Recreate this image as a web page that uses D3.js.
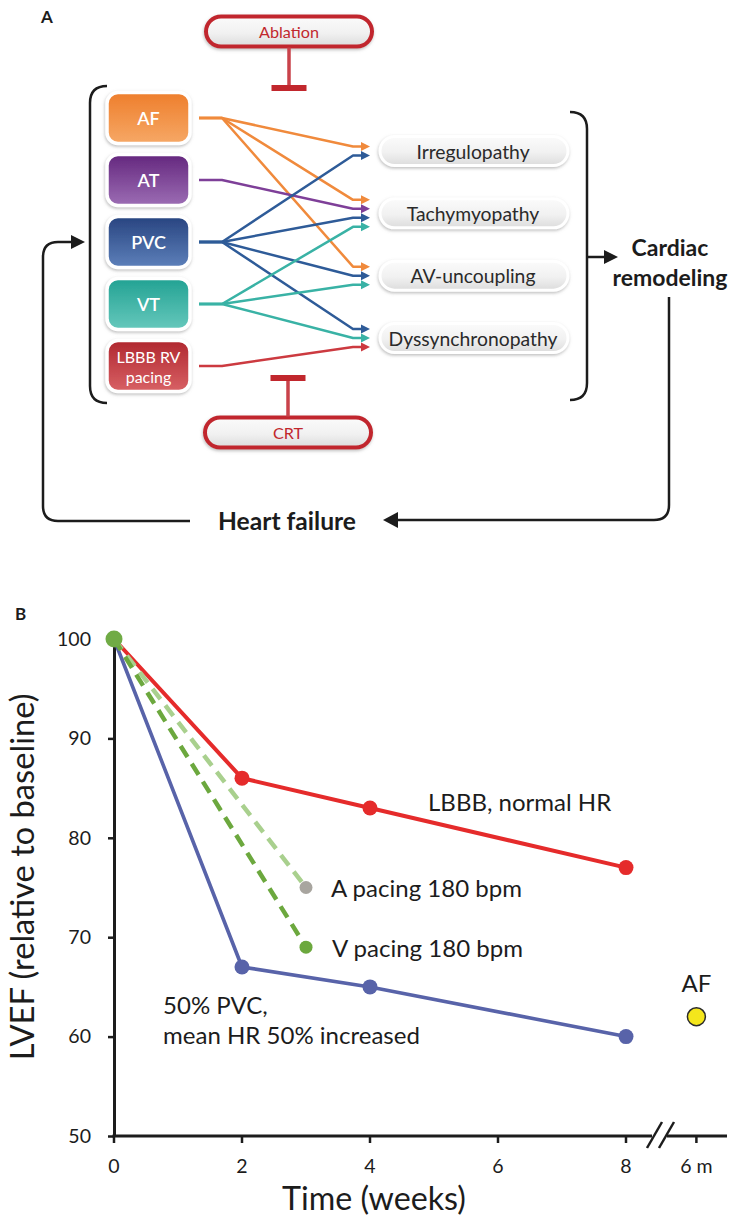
<!DOCTYPE html>
<html><head><meta charset="utf-8">
<script src="https://cdn.jsdelivr.net/npm/d3@7"></script>
<style>
body{margin:0;background:#fff}
svg{display:block}
text{font-family:Lato,"Open Sans",sans-serif}
</style>
</head><body>
<svg id="c" width="734" height="1218"></svg>
<script>
// ---------------- Panel A data ----------------
const sources = ["AF", "AT", "PVC", "VT", "LBBB RV pacing"];
const sourceLabelLines = [["AF"], ["AT"], ["PVC"], ["VT"], ["LBBB RV", "pacing"]];
const mechanisms = ["Irregulopathy", "Tachymyopathy", "AV-uncoupling", "Dyssynchronopathy"];
const linkFrom = ["AF", "AF", "AF", "AT", "PVC", "PVC", "PVC", "PVC", "VT", "VT", "VT", "LBBB RV pacing"];
const linkTo = ["Irregulopathy", "Tachymyopathy", "AV-uncoupling", "Tachymyopathy",
                "Irregulopathy", "Tachymyopathy", "AV-uncoupling", "Dyssynchronopathy",
                "Tachymyopathy", "AV-uncoupling", "Dyssynchronopathy", "Dyssynchronopathy"];
const interventions = ["Ablation", "CRT"];
const outcomeLines = ["Cardiac", "remodeling"];
const feedbackLabel = "Heart failure";

// ---------------- Panel B data ----------------
const weeks = [0, 2, 4, 8];
const lbbbNormalHR = [100, 86, 83, 77];
const pvc50 = [100, 67, 65, 60];
const pacingWeeks = [0, 3];
const aPacing180 = [100, 75];
const vPacing180 = [100, 69];
const afValue = [62];
const xTickValues = [0, 2, 4, 6, 8, "6 m"];
const yTickValues = [50, 60, 70, 80, 90, 100];
const seriesLabels = ["LBBB, normal HR", "A pacing 180 bpm", "V pacing 180 bpm", "50% PVC,", "mean HR 50% increased", "AF"];

// ---------------- styles ----------------
const srcGrad = {AF:["#EE7E2C","#F6A866"], AT:["#64277E","#9C6DB4"], PVC:["#284480","#5D80BA"], VT:["#22A293","#66C8BC"], "LBBB RV pacing":["#B0282F","#D86165"]};
const linkColor = {AF:"#F08A3C", AT:"#7E3F98", PVC:"#2E5B98", VT:"#39B2A5", "LBBB RV pacing":"#CC3A40"};
const dark = "#1c1c1c";
const therapyRed = "#C1272D";

const svg = d3.select("#c");
const defs = svg.append("defs");

function textWidth(str, size, weight) {
  const t = svg.append("text").attr("font-size", size).attr("font-weight", weight || "normal").text(str);
  const w = t.node().getComputedTextLength();
  t.remove();
  return w;
}
function fitSize(str, target, weight) { return 100 * target / textWidth(str, 100, weight); }

const shadow = defs.append("filter").attr("id", "sh").attr("x", "-20%").attr("y", "-30%").attr("width", "140%").attr("height", "160%");
shadow.append("feDropShadow").attr("dx", -0.5).attr("dy", 1.5).attr("stdDeviation", 1.6).attr("flood-color", "#888").attr("flood-opacity", 0.55);

sources.forEach((s, i) => {
  const g = defs.append("linearGradient").attr("id", "sg" + i).attr("x1", 0).attr("y1", 0).attr("x2", 0).attr("y2", 1);
  g.append("stop").attr("offset", "0%").attr("stop-color", srcGrad[s][0]);
  g.append("stop").attr("offset", "100%").attr("stop-color", srcGrad[s][1]);
});
const pg = defs.append("linearGradient").attr("id", "pill").attr("x1", 0).attr("y1", 0).attr("x2", 0).attr("y2", 1);
pg.append("stop").attr("offset", "0%").attr("stop-color", "#fbfbfb");
pg.append("stop").attr("offset", "55%").attr("stop-color", "#f1f1f1");
pg.append("stop").attr("offset", "100%").attr("stop-color", "#dcdcdc");

// ================= PANEL A =================
const A = svg.append("g");
A.append("text").attr("x", 41).attr("y", 23).attr("font-family", "Liberation Sans, Arial")
  .attr("font-weight", "bold").attr("font-size", 17).attr("fill", dark).text("A");

const srcY = d3.scalePoint().domain(sources).range([118, 366]);
const mechY = d3.scalePoint().domain(mechanisms).range([151, 338]);
const boxX = 107, boxW = 83, boxH = 51;
const fanX = 222, startX = 199, bendX = 353, tipX = 370;

// links
const linkData = linkFrom.map((f, i) => ({from: f, to: linkTo[i]}));
mechanisms.forEach(m => {
  const grp = linkData.filter(d => d.to === m);
  grp.forEach((d, k) => { d.ty = mechY(m) + (k - (grp.length - 1) / 2) * 9; });
});
const gl = A.append("g");
linkData.forEach(d => {
  const sy = srcY(d.from);
  gl.append("path")
    .attr("d", `M${startX},${sy}L${fanX},${sy}L${bendX},${d.ty}L${tipX - 7},${d.ty}`)
    .attr("fill", "none").attr("stroke", linkColor[d.from]).attr("stroke-width", 2.5).attr("stroke-linejoin", "round");
  gl.append("path")
    .attr("d", `M${tipX},${d.ty}L${tipX - 9},${d.ty - 4.5}L${tipX - 9},${d.ty + 4.5}Z`)
    .attr("fill", linkColor[d.from]);
});

// source boxes
const srcFont = 18;
sources.forEach((s, i) => {
  const cy = srcY(s);
  A.append("rect").attr("x", boxX).attr("y", cy - boxH / 2).attr("width", boxW).attr("height", boxH)
    .attr("rx", 11).attr("fill", `url(#sg${i})`).attr("stroke", "#fff").attr("stroke-width", 3.5).attr("filter", "url(#sh)");
  const lines = sourceLabelLines[i];
  lines.forEach((ln, k) => {
    A.append("text").attr("x", boxX + boxW / 2).attr("y", cy + (k - (lines.length - 1) / 2) * 20)
      .attr("text-anchor", "middle").attr("dominant-baseline", "central")
      .attr("font-size", lines.length > 1 ? 16 : srcFont).attr("font-weight", lines.length > 1 ? "normal" : "600")
      .attr("fill", "#fff").text(ln);
  });
});

// mechanism pills
const pillX = 380, pillW = 188, pillH = 29;
const mechFont = fitSize("Dyssynchronopathy", 169);
mechanisms.forEach(m => {
  const cy = mechY(m);
  A.append("rect").attr("x", pillX).attr("y", cy - pillH / 2).attr("width", pillW).attr("height", pillH)
    .attr("rx", pillH / 2).attr("fill", "url(#pill)").attr("stroke", "#fff").attr("stroke-width", 3).attr("filter", "url(#sh)");
  A.append("text").attr("x", pillX + pillW / 2 - 1).attr("y", cy).attr("text-anchor", "middle")
    .attr("dominant-baseline", "central").attr("font-size", mechFont).attr("fill", "#2a2a2a").text(m);
});

// brackets
A.append("path").attr("d", "M107,86Q90,86 90,103L90,386Q90,403 107,403")
  .attr("fill", "none").attr("stroke", dark).attr("stroke-width", 2.5);
A.append("path").attr("d", "M570,112Q587,112 587,129L587,383Q587,400 570,400")
  .attr("fill", "none").attr("stroke", dark).attr("stroke-width", 2.5);

// outcome arrow + text
A.append("path").attr("d", "M587,257L606,257").attr("stroke", dark).attr("stroke-width", 2.5);
A.append("path").attr("d", "M618,257L604,250L604,264Z").attr("fill", dark);
const boldFont = fitSize("remodeling", 115, "bold");
outcomeLines.forEach((t, k) => {
  A.append("text").attr("x", 670).attr("y", 247 + k * 30).attr("text-anchor", "middle")
    .attr("dominant-baseline", "central").attr("font-weight", "bold").attr("font-size", boldFont).attr("fill", dark).text(t);
});

// feedback loop
A.append("path").attr("d", "M669,297L669,505Q669,520 654,520L396,520")
  .attr("fill", "none").attr("stroke", dark).attr("stroke-width", 2.5);
A.append("path").attr("d", "M383,520L398,512L398,528Z").attr("fill", dark);
A.append("text").attr("x", 287).attr("y", 520).attr("text-anchor", "middle").attr("dominant-baseline", "central")
  .attr("font-weight", "bold").attr("font-size", fitSize(feedbackLabel, 138, "bold")).attr("fill", dark).text(feedbackLabel);
A.append("path").attr("d", "M190,521L58,521Q43,521 43,506L43,257Q43,242 58,242L72,242")
  .attr("fill", "none").attr("stroke", dark).attr("stroke-width", 2.5);
A.append("path").attr("d", "M85,242L71,235L71,249Z").attr("fill", dark);

// interventions (Ablation top, CRT bottom)
const therapyY = d3.scalePoint().domain(interventions).range([31.5, 432.5]);
const thFont = fitSize("Ablation", 60);
interventions.forEach((t, i) => {
  const cy = therapyY(t), cx = 289 - i;
  A.append("rect").attr("x", cx - 83).attr("y", cy - 15).attr("width", 166).attr("height", 30).attr("rx", 15)
    .attr("fill", "url(#pill)").attr("stroke", therapyRed).attr("stroke-width", 4).attr("filter", "url(#sh)");
  A.append("text").attr("x", cx).attr("y", cy).attr("text-anchor", "middle").attr("dominant-baseline", "central")
    .attr("font-size", thFont).attr("fill", therapyRed).text(t);
  const dir = i === 0 ? 1 : -1;
  const y0 = cy + dir * 16, y1 = i === 0 ? 85 : 381;
  A.append("line").attr("x1", cx).attr("x2", cx).attr("y1", y0).attr("y2", y1)
    .attr("stroke", "#C9424A").attr("stroke-width", 3.5);
  A.append("rect").attr("x", cx - 17.5).attr("y", (i === 0 ? y1 : y1 - 6)).attr("width", 35).attr("height", 6)
    .attr("fill", therapyRed);
});

// ================= PANEL B =================
const B = svg.append("g");
B.append("text").attr("x", 15).attr("y", 620).attr("font-family", "Liberation Sans, Arial")
  .attr("font-weight", "bold").attr("font-size", 17).attr("fill", dark).text("B");

const afPos = 9.1; // axis position of the "6 m" break category
const x = d3.scaleLinear().domain([0, 8]).range([114, 626]);
const y = d3.scaleLinear().domain([50, 100]).range([1136, 639]);
const xPos = v => (v === "6 m" ? x(afPos) : x(v));

const tickFont = fitSize("100", 34);
// y axis
const ya = B.append("g").attr("transform", "translate(114,0)")
  .call(d3.axisLeft(y).tickValues(yTickValues).tickSize(6).tickSizeOuter(0).tickPadding(17));
ya.select(".domain").attr("stroke", dark).attr("stroke-width", 3);
ya.selectAll(".tick line").attr("stroke", dark).attr("stroke-width", 2.5);
ya.selectAll(".tick text").attr("font-size", tickFont).attr("fill", dark).attr("font-family", null);

// x axis (with break before the "6 m" category)
const xg = B.append("g").attr("transform", "translate(0,1136)");
xg.append("line").attr("x1", 112.5).attr("x2", 652).attr("stroke", dark).attr("stroke-width", 3);
xg.append("line").attr("x1", 667).attr("x2", 727).attr("stroke", dark).attr("stroke-width", 3);
xg.append("line").attr("x1", 647).attr("y1", 12).attr("x2", 662).attr("y2", -14).attr("stroke", dark).attr("stroke-width", 2.5);
xg.append("line").attr("x1", 659).attr("y1", 12).attr("x2", 674).attr("y2", -14).attr("stroke", dark).attr("stroke-width", 2.5);
const xt = xg.selectAll(".xt").data(xTickValues).join("g").attr("transform", d => `translate(${xPos(d)},0)`);
xt.append("line").attr("y2", 7).attr("stroke", dark).attr("stroke-width", 2.5);
xt.append("text").attr("y", 36.5).attr("text-anchor", "middle")
  .attr("font-size", tickFont).attr("fill", dark).text(d => d);

// axis titles
const titleFont = fitSize("Time (weeks)", 184);
B.append("text").attr("x", 374).attr("y", 1210).attr("text-anchor", "middle")
  .attr("font-size", titleFont).attr("fill", dark).text("Time (weeks)");
const yTitle = "LVEF (relative to baseline)";
B.append("text").attr("transform", "translate(21,877) rotate(-90)").attr("text-anchor", "middle")
  .attr("dominant-baseline", "central").attr("font-size", fitSize(yTitle, 367)).attr("fill", dark).text(yTitle);

// series
const line = d3.line().x(d => x(d[0])).y(d => y(d[1]));
const zip = (a, b) => a.map((v, i) => [v, b[i]]);
const blue = "#5863A9", red = "#E52B2B", dGreen = "#6CA83E", lGreen = "#A9D08E";

B.append("path").attr("d", line(zip(weeks, pvc50))).attr("fill", "none").attr("stroke", blue).attr("stroke-width", 3.6);
B.append("path").attr("d", line(zip(weeks, lbbbNormalHR))).attr("fill", "none").attr("stroke", red).attr("stroke-width", 4);
B.append("path").attr("d", line(zip(pacingWeeks, aPacing180))).attr("fill", "none").attr("stroke", lGreen)
  .attr("stroke-width", 4.5).attr("stroke-dasharray", "13,8");
B.append("path").attr("d", line(zip(pacingWeeks, vPacing180))).attr("fill", "none").attr("stroke", dGreen)
  .attr("stroke-width", 4.5).attr("stroke-dasharray", "13,8");

B.selectAll(".pb").data(zip(weeks, pvc50).slice(1)).join("circle")
  .attr("cx", d => x(d[0])).attr("cy", d => y(d[1])).attr("r", 7.5).attr("fill", blue);
B.selectAll(".pr").data(zip(weeks, lbbbNormalHR).slice(1)).join("circle")
  .attr("cx", d => x(d[0])).attr("cy", d => y(d[1])).attr("r", 7.5).attr("fill", red);
B.append("circle").attr("cx", x(pacingWeeks[1])).attr("cy", y(aPacing180[1])).attr("r", 6.5).attr("fill", "#A8A59F");
B.append("circle").attr("cx", x(pacingWeeks[1])).attr("cy", y(vPacing180[1])).attr("r", 6.5).attr("fill", dGreen);
B.append("circle").attr("cx", x(weeks[0])).attr("cy", y(pvc50[0])).attr("r", 8.5).attr("fill", "#70AB45");
B.append("circle").attr("cx", x(afPos)).attr("cy", y(afValue[0])).attr("r", 9).attr("fill", "#F4E61C")
  .attr("stroke", "#2a2a2a").attr("stroke-width", 1.5);

// annotations
const annFont = fitSize("mean HR 50% increased", 257);
const ann = [
  [seriesLabels[0], 428, 801, "start"],
  [seriesLabels[1], 331, 887, "start"],
  [seriesLabels[2], 332, 947, "start"],
  [seriesLabels[3], 163, 1004, "start"],
  [seriesLabels[4], 163, 1034, "start"],
  [seriesLabels[5], x(afPos), 982, "middle"]
];
ann.forEach(a => {
  B.append("text").attr("x", a[1]).attr("y", a[2]).attr("text-anchor", a[3]).attr("dominant-baseline", "central")
    .attr("font-size", annFont).attr("fill", dark).text(a[0]);
});
</script>
</body></html>
